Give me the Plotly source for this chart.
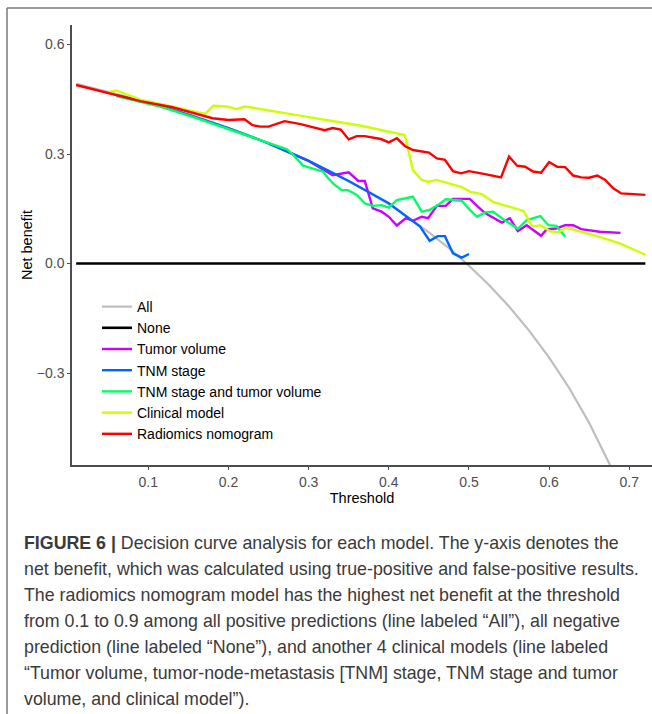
import plotly.graph_objects as go

# ---------------- data ----------------
all_x = [0.01, 0.025, 0.05, 0.075, 0.1, 0.125, 0.15, 0.175, 0.2, 0.225, 0.25, 0.275, 0.3, 0.325,
         0.35, 0.375, 0.4, 0.425, 0.45, 0.475, 0.5, 0.525, 0.55, 0.575, 0.6, 0.625, 0.65, 0.675,
         0.7, 0.72]
all_y = [0.492, 0.484, 0.470, 0.456, 0.441, 0.425, 0.408, 0.390, 0.371, 0.351, 0.329, 0.306, 0.281,
         0.255, 0.226, 0.195, 0.162, 0.125, 0.085, 0.042, -0.006, -0.059, -0.118, -0.184, -0.258,
         -0.341, -0.437, -0.548, -0.677, -0.796]

none_x = [0.01, 0.72]
none_y = [0.0, 0.0]

tumor_x = [0.25, 0.3, 0.330, 0.339, 0.350, 0.362, 0.370, 0.380, 0.391, 0.400, 0.410, 0.421, 0.430,
           0.441, 0.449, 0.460, 0.471, 0.480, 0.501, 0.510, 0.520, 0.541, 0.551, 0.561, 0.572,
           0.590, 0.597, 0.609, 0.620, 0.630, 0.640, 0.663, 0.689]
tumor_y = [0.329, 0.281, 0.242, 0.245, 0.250, 0.226, 0.226, 0.151, 0.142, 0.128, 0.104, 0.124, 0.117,
           0.128, 0.124, 0.158, 0.158, 0.177, 0.177, 0.158, 0.138, 0.112, 0.124, 0.089, 0.105,
           0.076, 0.094, 0.096, 0.105, 0.105, 0.094, 0.087, 0.084]

tnm_x = [0.06, 0.1, 0.15, 0.2, 0.25, 0.3, 0.35, 0.4, 0.439, 0.451, 0.461, 0.470, 0.480, 0.491, 0.500]
tnm_y = [0.461, 0.441, 0.408, 0.371, 0.329, 0.281, 0.226, 0.165, 0.101, 0.062, 0.075, 0.075, 0.028,
         0.016, 0.026]

tnmtv_x = [0.06, 0.115, 0.16, 0.21, 0.25, 0.273, 0.281, 0.293, 0.302, 0.318, 0.322, 0.330, 0.341,
           0.349, 0.360, 0.370, 0.380, 0.391, 0.400, 0.410, 0.430, 0.441, 0.451, 0.461, 0.471,
           0.483, 0.491, 0.501, 0.510, 0.520, 0.530, 0.541, 0.551, 0.561, 0.572, 0.589, 0.599,
           0.609, 0.620]
tnmtv_y = [0.459, 0.430, 0.398, 0.361, 0.330, 0.313, 0.297, 0.268, 0.262, 0.252, 0.240, 0.220, 0.201,
           0.201, 0.188, 0.165, 0.158, 0.160, 0.153, 0.174, 0.183, 0.142, 0.147, 0.160, 0.176,
           0.174, 0.172, 0.147, 0.128, 0.140, 0.142, 0.124, 0.110, 0.095, 0.119, 0.130, 0.105,
           0.103, 0.073]

clin_x = [0.052, 0.06, 0.09, 0.13, 0.171, 0.181, 0.198, 0.210, 0.221, 0.289, 0.364, 0.420, 0.430,
          0.441, 0.449, 0.460, 0.491, 0.501, 0.516, 0.530, 0.568, 0.579, 0.589, 0.601, 0.611,
          0.622, 0.663, 0.688, 0.72]
clin_y = [0.471, 0.474, 0.449, 0.430, 0.410, 0.432, 0.430, 0.423, 0.430, 0.405, 0.378, 0.352, 0.256,
          0.229, 0.224, 0.229, 0.209, 0.197, 0.190, 0.169, 0.144, 0.101, 0.105, 0.089, 0.085,
          0.098, 0.073, 0.055, 0.024]

rad_x = [0.01, 0.05, 0.09, 0.13, 0.17, 0.18, 0.20, 0.22, 0.23, 0.24, 0.25, 0.27, 0.29, 0.32, 0.33,
         0.34, 0.35, 0.36, 0.37, 0.39, 0.40, 0.41, 0.42, 0.43, 0.45, 0.46, 0.47, 0.48, 0.49, 0.50,
         0.52, 0.54, 0.55, 0.56, 0.57, 0.58, 0.59, 0.60, 0.61, 0.62, 0.63, 0.64, 0.65, 0.66, 0.67,
         0.68, 0.69, 0.70, 0.72]
rad_y = [0.489, 0.468, 0.445, 0.428, 0.405, 0.398, 0.393, 0.395, 0.379, 0.375, 0.375, 0.390, 0.382,
         0.365, 0.371, 0.367, 0.340, 0.349, 0.349, 0.341, 0.332, 0.343, 0.322, 0.311, 0.304, 0.288,
         0.284, 0.253, 0.247, 0.253, 0.245, 0.236, 0.293, 0.268, 0.265, 0.252, 0.249, 0.278, 0.265,
         0.264, 0.241, 0.236, 0.235, 0.241, 0.229, 0.206, 0.192, 0.190, 0.188]

series_names = ["All", "None", "Tumor volume", "TNM stage", "TNM stage and tumor volume",
                "Clinical model", "Radiomics nomogram"]
series_colors = ["#BEBEBE", "#000000", "#CC00FF", "#0066FF", "#00FF66", "#CCFF00", "#FF0000"]
series_widths = [2.2, 2.6, 2.4, 2.4, 2.4, 2.4, 2.4]

x_ticks = [0.1, 0.2, 0.3, 0.4, 0.5, 0.6, 0.7]
y_ticks = [-0.3, 0.0, 0.3, 0.6]

caption_lines = [
    "<b>FIGURE 6 |</b> Decision curve analysis for each model. The y-axis denotes the",
    "net benefit, which was calculated using true-positive and false-positive results.",
    "The radiomics nomogram model has the highest net benefit at the threshold",
    "from 0.1 to 0.9 among all positive predictions (line labeled \u201cAll\u201d), all negative",
    "prediction (line labeled \u201cNone\u201d), and another 4 clinical models (line labeled",
    "\u201cTumor volume, tumor-node-metastasis [TNM] stage, TNM stage and tumor",
    "volume, and clinical model\u201d).",
]

# ---------------- figure ----------------
W, H = 652, 714
ML, MR, MT, MB = 72, 0, 25, 249
PW, PH = W - ML - MR, H - MT - MB


def px_x(px):
    return (px - ML) / PW


def px_y(py):
    return (H - MB - py) / PH


FONT = "Liberation Sans, Arial, Helvetica, sans-serif"

fig = go.Figure()
data = [(all_x, all_y), (none_x, none_y), (tumor_x, tumor_y), (tnm_x, tnm_y),
        (tnmtv_x, tnmtv_y), (clin_x, clin_y), (rad_x, rad_y)]
for (xs, ys), name, col, w in zip(data, series_names, series_colors, series_widths):
    fig.add_trace(go.Scatter(x=xs, y=ys, mode="lines", name=name,
                             line=dict(color=col, width=w)))

fig.update_layout(
    width=W, height=H,
    margin=dict(l=ML, r=MR, t=MT, b=MB, pad=0),
    paper_bgcolor="white", plot_bgcolor="white",
    font=dict(family=FONT, color="#000000"),
    showlegend=True,
    legend=dict(x=px_x(97), y=px_y(291), xanchor="left", yanchor="top",
                bgcolor="rgba(0,0,0,0)", font=dict(size=14, color="#000000", family=FONT),
                itemwidth=30, tracegroupgap=0),
    xaxis=dict(range=[0.0048, 0.7283], tickvals=x_ticks, ticktext=[f"{v:.1f}" for v in x_ticks],
               showgrid=False, zeroline=False, showline=True, linecolor="#4d4d4d", linewidth=1.5,
               ticks="outside", ticklen=3, tickwidth=1, tickcolor="#4d4d4d",
               tickfont=dict(size=14, color="#4d4d4d", family=FONT),
               title=dict(text="Threshold", font=dict(size=14.5, color="#000000", family=FONT),
                          standoff=3)),
    yaxis=dict(range=[-0.552, 0.6534], tickvals=y_ticks,
               ticktext=["\u22120.3", "0.0", "0.3", "0.6"],
               showgrid=False, zeroline=False, showline=True, linecolor="#4d4d4d", linewidth=1.5,
               ticks="outside", ticklen=3, tickwidth=1, tickcolor="#4d4d4d",
               tickfont=dict(size=14, color="#4d4d4d", family=FONT),
               title=dict(text="Net benefit", font=dict(size=14.5, color="#000000", family=FONT),
                          standoff=1)),
)

# outer frame of the figure panel (top and left border)
fig.add_shape(type="line", xref="paper", yref="paper", x0=px_x(7), x1=px_x(W + 2),
              y0=px_y(8), y1=px_y(8), line=dict(color="#7a7a7a", width=1.5))
fig.add_shape(type="line", xref="paper", yref="paper", x0=px_x(7), x1=px_x(7),
              y0=px_y(8), y1=px_y(H + 2), line=dict(color="#7a7a7a", width=1.5))

# caption
cap_y0, cap_dy = 543, 26
for i, line in enumerate(caption_lines):
    fig.add_annotation(text=line, xref="paper", yref="paper", x=px_x(22), y=px_y(cap_y0 + i * cap_dy),
                       xanchor="left", yanchor="middle", showarrow=False, align="left",
                       font=dict(size=17.8, color="#3a3a3a", family=FONT))

fig.write_html("out.html")
